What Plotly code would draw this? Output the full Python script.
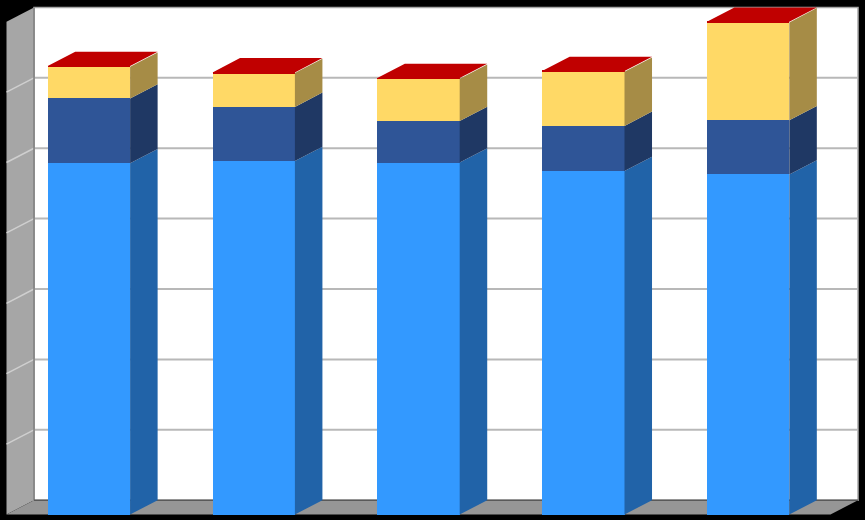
import plotly.graph_objects as go

# ---- data (gridline step = 10, axis max = 70) ----
categories = [0, 1, 2, 3, 4]
series_names = ["Series 1", "Series 2", "Series 3", "Series 4"]
light_blue = [49.9, 50.2, 50.0, 48.8, 48.3]
dark_blue = [9.2, 7.7, 5.9, 6.4, 7.7]
yellow = [4.5, 4.8, 6.0, 7.7, 13.9]
red = [0.1, 0.1, 0.1, 0.1, 0.1]
y_ticks = [0, 10, 20, 30, 40, 50, 60, 70]

# ---- style ----
front_colors = ["#3399FF", "#2F5597", "#FFD966", "#C00000"]
side_colors = ["#2163A8", "#1F3864", "#A68C46", "#8A0000"]
top_color = "#C00000"
BAR_W = 0.5
DX = 0.167   # depth offset in category units
DY = 2.03    # depth offset in value units
X0, X1 = -0.5, 4.5
YMAX = y_ticks[-1]

series = [light_blue, dark_blue, yellow, red]

fig = go.Figure()

# front faces (stacked bars)
for name, vals, col in zip(series_names, series, front_colors):
    fig.add_trace(go.Bar(x=categories, y=vals, name=name, width=BAR_W,
                         marker=dict(color=col, line=dict(width=0)),
                         hoverinfo="skip", showlegend=False))

# side faces
bases = [0.0] * len(categories)
for vals, col in zip(series, side_colors):
    xs, ys = [], []
    for i, c in enumerate(categories):
        b = bases[i]
        t = b + vals[i]
        xr = c + BAR_W / 2
        xs += [xr, xr + DX, xr + DX, xr, xr, None]
        ys += [b, b + DY, t + DY, t, b, None]
        bases[i] = t
    fig.add_trace(go.Scatter(x=xs, y=ys, mode="lines", fill="toself",
                             fillcolor=col, line=dict(width=0, color=col),
                             hoverinfo="skip", showlegend=False))

# top faces
xs, ys = [], []
for i, c in enumerate(categories):
    T = bases[i]
    xl, xr = c - BAR_W / 2, c + BAR_W / 2
    xs += [xl, xr, xr + DX, xl + DX, xl, None]
    ys += [T, T, T + DY, T + DY, T, None]
fig.add_trace(go.Scatter(x=xs, y=ys, mode="lines", fill="toself",
                         fillcolor=top_color, line=dict(width=0, color=top_color),
                         hoverinfo="skip", showlegend=False))

# ---- walls / floor ----
shapes = []
# back wall
shapes.append(dict(type="rect", xref="x", yref="y", layer="below",
                   x0=X0 + DX, x1=X1 + DX, y0=DY, y1=YMAX + DY,
                   fillcolor="white", line=dict(color="#A6A6A6", width=1.5)))
# left side wall
shapes.append(dict(type="path", xref="x", yref="y", layer="below",
                   path=f"M {X0},{0} L {X0+DX},{DY} L {X0+DX},{YMAX+DY} L {X0},{YMAX} Z",
                   fillcolor="#A6A6A6", line=dict(width=0)))
# floor
shapes.append(dict(type="path", xref="x", yref="y", layer="below",
                   path=f"M {X0},{0} L {X1},{0} L {X1+DX},{DY} L {X0+DX},{DY} Z",
                   fillcolor="#969696", line=dict(width=0)))
# gridlines
for v in y_ticks[1:-1]:
    shapes.append(dict(type="line", xref="x", yref="y", layer="below",
                       x0=X0 + DX, x1=X1 + DX, y0=v + DY, y1=v + DY,
                       line=dict(color="#B8B8B8", width=2)))
    shapes.append(dict(type="line", xref="x", yref="y", layer="below",
                       x0=X0, x1=X0 + DX, y0=v, y1=v + DY,
                       line=dict(color="#CFCFCF", width=1.5)))
# back wall left & bottom edges (darker)
shapes.append(dict(type="line", xref="x", yref="y", layer="below",
                   x0=X0 + DX, x1=X0 + DX, y0=DY, y1=YMAX + DY,
                   line=dict(color="#7F7F7F", width=1.5)))
shapes.append(dict(type="line", xref="x", yref="y", layer="below",
                   x0=X0 + DX, x1=X1 + DX, y0=DY, y1=DY,
                   line=dict(color="#595959", width=1.5)))

# axis ranges chosen so the plot fills the page
px_per_cat = 164.8
px_per_val = 7.04
x_left = X0 - 6.5 / px_per_cat
x_right = X0 + (865 - 6.5) / px_per_cat
y_bottom = -(520 - 514.5) / px_per_val
y_top = 514.5 / px_per_val

fig.update_layout(
    width=865, height=520, autosize=False,
    margin=dict(l=0, r=0, t=0, b=0, pad=0),
    paper_bgcolor="black", plot_bgcolor="black",
    barmode="stack", bargap=0.5,
    shapes=shapes, showlegend=False, hovermode=False,
    xaxis=dict(range=[x_left, x_right], visible=False, fixedrange=True),
    yaxis=dict(range=[y_bottom, y_top], visible=False, fixedrange=True),
)

fig.write_html(
    "out.html",
    config={"displayModeBar": False},
    post_script="document.body.style.margin='0';document.body.style.background='black';document.body.style.overflow='hidden';",
)
